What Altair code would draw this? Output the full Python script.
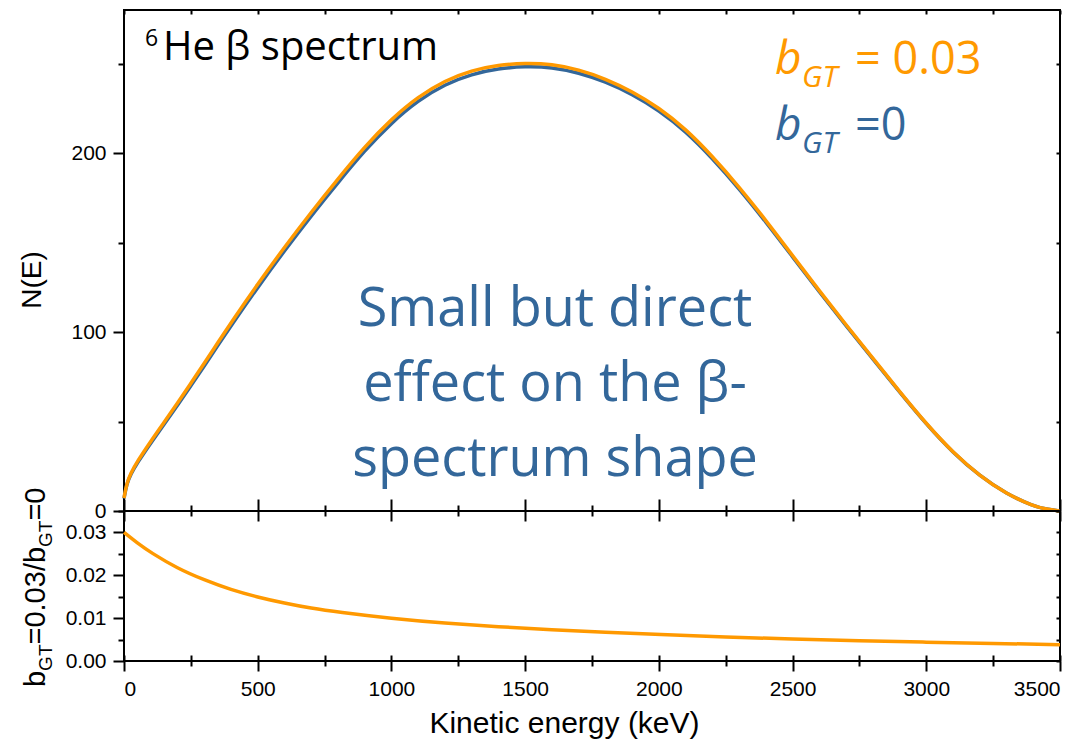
import altair as alt
import pandas as pd

# ---------------- data ----------------
energy_keV = [0, 10, 25, 50, 100, 150, 200, 250, 300, 350, 400, 500, 600, 700, 800,
              900, 1000, 1100, 1200, 1300, 1400, 1500, 1600, 1700, 1800, 1900, 2000,
              2100, 2200, 2300, 2400, 2500, 2600, 2700, 2800, 2900, 3000, 3100, 3200,
              3300, 3400, 3450, 3500]
n_bgt0 = [7, 15, 20.5, 27, 38, 48.5, 59, 70, 81, 92.3, 103.5, 125, 145.5, 165, 183.5,
          201.5, 217, 229.5, 238.5, 244.2, 247.3, 248.5, 248.0, 245.0, 240.0, 233.0, 224.0,
          212.3, 197.2, 180.2, 161.6, 142, 122.5, 103.5, 85, 66.5, 48.5, 32.5, 19.5,
          9.5, 2.8, 0.9, 0]
n_bgt003 = [7.2, 15.4, 21.1, 27.8, 39.0, 49.6, 60.3, 71.4, 82.5, 93.9, 105.2, 126.9, 147.4, 167.0, 185.6,
            203.6, 219.1, 231.6, 240.6, 246.3, 249.3, 250.4, 249.8, 246.7, 241.6, 234.5, 225.4,
            213.6, 198.3, 181.2, 162.5, 142.7, 123.1, 104.0, 85.4, 66.8, 48.7, 32.6, 19.6,
            9.5, 2.8, 0.9, 0]

energy_ratio_keV = [0, 50, 100, 200, 300, 400, 500, 600, 700, 800, 1000, 1200, 1400,
                    1600, 1800, 2000, 2250, 2500, 2750, 3000, 3250, 3500]
ratio = [0.0300, 0.0275, 0.0253, 0.0216, 0.0189, 0.0166, 0.0149, 0.0135, 0.0123, 0.0114,
         0.0099, 0.0088, 0.0080, 0.0073, 0.0067, 0.0062, 0.0056, 0.0051, 0.0047, 0.0044,
         0.0041, 0.0038]

x_ticks = [0, 250, 500, 750, 1000, 1250, 1500, 1750, 2000, 2250, 2500, 2750, 3000, 3250, 3500]
y_top_ticks = [0, 50, 100, 150, 200, 250]
y_bot_ticks = [0, 0.005, 0.01, 0.015, 0.02, 0.025, 0.03, 0.035]

ORANGE = "#FF9900"
BLUE = "#33679A"
AX_FONT = "Liberation Sans"
TXT_FONT = "Open Sans"

df0 = pd.DataFrame({"E": energy_keV, "N": n_bgt0})
df3 = pd.DataFrame({"E": energy_keV, "N": n_bgt003})
dfr = pd.DataFrame({"E": energy_ratio_keV, "R": ratio})
one = pd.DataFrame({"a": [1]})

xscale = alt.Scale(domain=[0, 3500], nice=False, zero=False)
ytop_scale = alt.Scale(domain=[0, 280], nice=False)
ybot_scale = alt.Scale(domain=[0, 0.035], nice=False)

X_MAJOR = "datum.value % 500 === 0"
YT_MAJOR = "datum.value % 100 === 0"
YB_MAJOR = "abs(datum.value*100 - round(datum.value*100)) < 0.001"


def cond_size(test, big, small):
    return {"condition": {"test": test, "value": big}, "value": small}


def mk_axis(orient, values, size, offset=0, label_expr=None, title=None, fmt=None, **kw):
    args = dict(orient=orient, values=values, tickSize=size, offset=offset,
                domain=False, grid=False, title=title)
    if label_expr is None:
        args["labels"] = False
    else:
        args["labels"] = True
        args["labelExpr"] = label_expr
    if fmt is not None:
        args["format"] = fmt
    args.update(kw)
    return alt.Axis(**args)


def label(text, x, y, size, color="black", font=TXT_FONT, style="normal",
          angle=0, align="left", baseline="alphabetic", line_height=None):
    props = dict(text=text, fontSize=size, font=font, fontStyle=style, color=color,
                 angle=angle, align=align, baseline=baseline)
    if line_height is not None:
        props["lineHeight"] = line_height
    return alt.Chart(one).mark_text(**props).encode(x=alt.value(x), y=alt.value(y))


# ---------------- top panel ----------------
blue_line = alt.Chart(df0).mark_line(color=BLUE, strokeWidth=3.5, interpolate="basis").encode(
    x=alt.X("E:Q", scale=xscale,
            axis=mk_axis("bottom", x_ticks, cond_size(X_MAJOR, 10, 5))),
    y=alt.Y("N:Q", scale=ytop_scale,
            axis=mk_axis("left", y_top_ticks, cond_size(YT_MAJOR, 11, 6),
                         label_expr=YT_MAJOR + " ? datum.label : ''", labelPadding=7)),
)
orange_line = alt.Chart(df3).mark_line(color=ORANGE, strokeWidth=3.5, interpolate="basis").encode(
    x=alt.X("E:Q", scale=xscale, axis=mk_axis("top", x_ticks, 4, offset=-4)),
    y=alt.Y("N:Q", scale=ytop_scale, axis=mk_axis("right", y_top_ticks, 4, offset=-4)),
)

top_texts = [
    label("6", 21, 36, 23),
    label("He \u03b2 spectrum", 39, 50, 40),
    label(["Small but direct", "effect on the \u03b2-", "spectrum shape"], 431, 316, 54,
          color=BLUE, align="center", line_height=75),
    label("b", 651, 64, 46, color=ORANGE, style="italic"),
    label("GT", 678, 77, 30, color=ORANGE, style="italic"),
    label("= 0.03", 731, 64, 45, color=ORANGE),
    label("b", 651, 130, 46, color=BLUE, style="italic"),
    label("GT", 678, 143, 30, color=BLUE, style="italic"),
    label("=0", 731, 130, 45, color=BLUE),
    label("N(E)", -83, 270, 28, font=AX_FONT, angle=270, align="center"),
]

top = alt.layer(blue_line, orange_line, *top_texts).resolve_axis(
    x="independent", y="independent"
).properties(width=936, height=501)

# ---------------- bottom panel ----------------
ratio_line = alt.Chart(dfr).mark_line(color=ORANGE, strokeWidth=3.5, interpolate="basis").encode(
    x=alt.X("E:Q", scale=xscale,
            axis=mk_axis("bottom", x_ticks, cond_size(X_MAJOR, 10, 5),
                         label_expr=X_MAJOR + " ? datum.label : ''", fmt="d",
                         title="Kinetic energy (keV)", labelPadding=7,
                         titleFont=AX_FONT, titleFontSize=30, titleFontWeight="normal",
                         titleColor="black", titlePadding=9, titleX=440)),
    y=alt.Y("R:Q", scale=ybot_scale,
            axis=mk_axis("left", y_bot_ticks, cond_size(YB_MAJOR, 11, 6),
                         label_expr=YB_MAJOR + " ? datum.label : ''", fmt=".2f",
                         labelPadding=7)),
)
ghost1 = alt.Chart(dfr).mark_line(opacity=0).encode(
    x=alt.X("E:Q", scale=xscale, axis=mk_axis("bottom", x_ticks, 6, offset=-6)),
    y=alt.Y("R:Q", scale=ybot_scale, axis=mk_axis("right", y_bot_ticks, 4, offset=-4)),
)
ghost2 = alt.Chart(dfr).mark_line(opacity=0).encode(
    x=alt.X("E:Q", scale=xscale, axis=mk_axis("top", x_ticks, cond_size(X_MAJOR, 12, 6))),
    y=alt.Y("R:Q", scale=ybot_scale, axis=None),
)

# rotated y title with subscripts: b_GT=0.03/b_GT=0
MAIN_SZ = 29
SUB_SZ = 19
bx, sx = -79, -72
bot_texts = [
    label("b", bx, 176, MAIN_SZ, font=AX_FONT, angle=270),
    label("GT", sx, 159.9, SUB_SZ, font=AX_FONT, angle=270),
    label("=0.03/b", bx, 133.5, MAIN_SZ, font=AX_FONT, angle=270),
    label("GT", sx, 36, SUB_SZ, font=AX_FONT, angle=270),
    label("=0", bx, 9.6, MAIN_SZ, font=AX_FONT, angle=270),
]

bottom = alt.layer(ratio_line, ghost1, ghost2, *bot_texts).resolve_axis(
    x="independent", y="independent"
).properties(width=936, height=150)

chart = alt.vconcat(top, bottom, spacing=0, bounds="flush").properties(
    padding={"left": 10, "top": 0, "right": 0, "bottom": 0}
).configure_view(
    stroke="black", strokeWidth=2
).configure_axis(
    labelFont=AX_FONT, labelFontSize=21, labelColor="black",
    tickColor="black", tickWidth=2, domain=False, grid=False
)

chart.save("out.html", embed_options={"renderer": "svg", "actions": False})
